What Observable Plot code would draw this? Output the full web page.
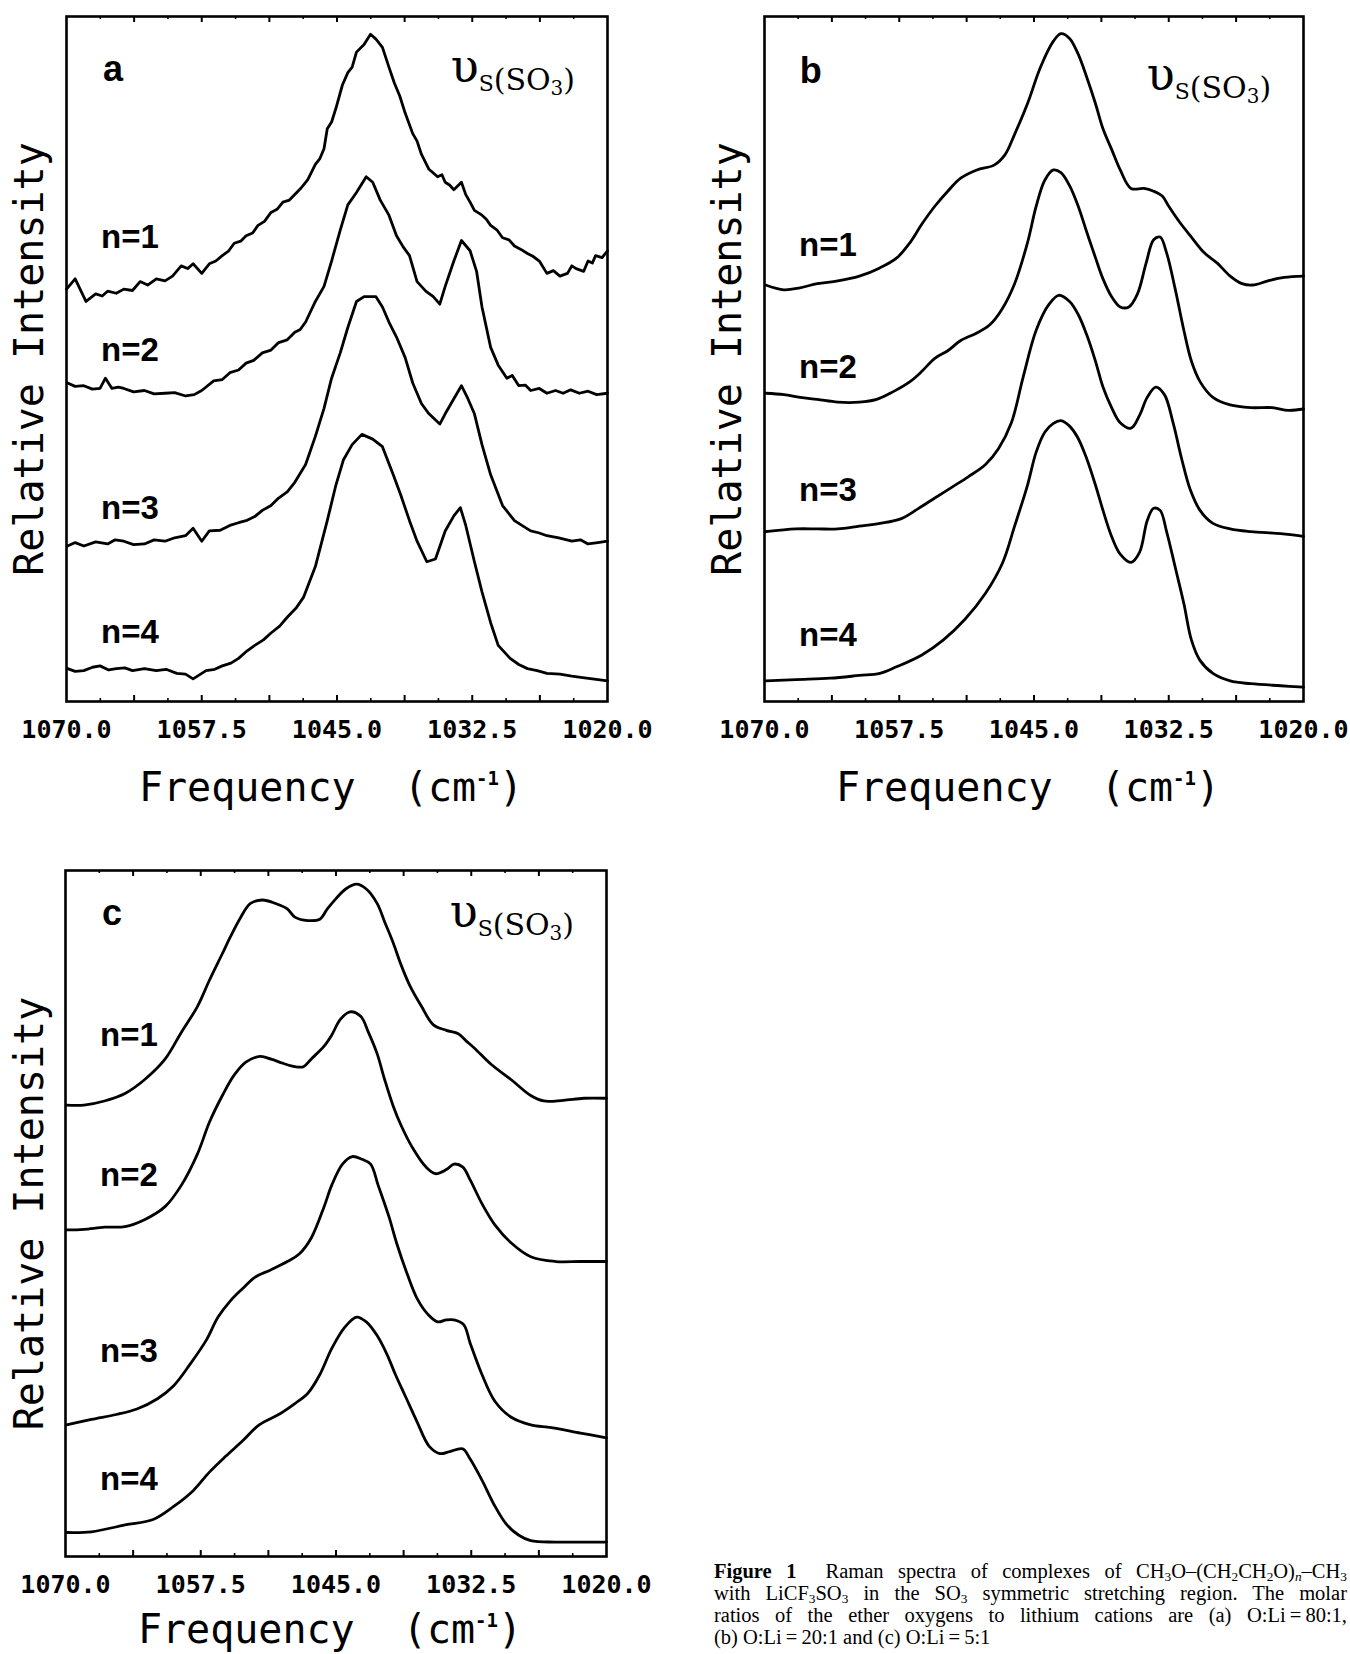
<!DOCTYPE html>
<html><head><meta charset="utf-8">
<script src="https://cdn.jsdelivr.net/npm/d3@7"></script>
<script src="https://cdn.jsdelivr.net/npm/@observablehq/plot@0.6"></script>
<style>
html,body{margin:0;padding:0;background:#fff;}
#page{position:relative;width:1350px;height:1654px;overflow:hidden;background:#fff;}
.panel{position:absolute;}
.panel svg{overflow:visible;}
#caption{position:absolute;left:714px;top:1560px;width:633px;font-family:"Liberation Serif","Times New Roman",serif;font-size:20.5px;line-height:22px;color:#000;}
#caption .ln{text-align:justify;text-align-last:justify;height:22px;overflow:visible;}
#caption .last{text-align:left;text-align-last:left;}
#caption sub{font-size:65%;vertical-align:-0.25em;line-height:0;}
</style>
</head><body>
<div id="page">
  <div class="panel" id="pa" style="left:0;top:0"></div>
  <div class="panel" id="pb" style="left:698px;top:0"></div>
  <div class="panel" id="pc" style="left:0;top:854px"></div>
  <div id="caption">
    <div class="ln"><b>Figure 1</b>&nbsp; Raman spectra of complexes of CH<sub>3</sub>O–(CH<sub>2</sub>CH<sub>2</sub>O)<sub><i>n</i></sub>–CH<sub>3</sub></div>
    <div class="ln">with LiCF<sub>3</sub>SO<sub>3</sub> in the SO<sub>3</sub> symmetric stretching region. The molar</div>
    <div class="ln">ratios of the ether oxygens to lithium cations are (a) O:Li&#8201;=&#8201;80:1,</div>
    <div class="ln last">(b) O:Li&#8201;=&#8201;20:1 and (c) O:Li&#8201;=&#8201;5:1</div>
  </div>
</div>
<script>
// ---------- data (frequency in cm^-1, relative intensity in arbitrary units 0-100) ----------
const freqTicks = [1070, 1057.5, 1045, 1032.5, 1020];
const majorTicks = [1063.75, 1057.5, 1051.25, 1045, 1038.75, 1032.5, 1026.25];
const minorTicks = [1066.875, 1060.625, 1054.375, 1048.125, 1041.875, 1035.625, 1029.375, 1023.125];
const seriesNames = ["n=1", "n=2", "n=3", "n=4"];
const yLabel = "Relative Intensity";
const xLabel = "Frequency";

// panel a : O:Li = 80:1
const a1 = [[1070.0,60.2],[1069.2,61.7],[1068.2,58.4],[1067.3,59.5],[1066.7,59.2],[1066.2,59.9],[1065.4,59.6],[1064.7,60.2],[1063.9,60.0],[1063.2,61.3],[1062.5,60.8],[1061.7,61.7],[1060.9,61.4],[1060.2,62.1],[1059.4,63.6],[1058.8,63.2],[1058.3,63.9],[1057.5,62.5],[1056.8,63.9],[1056.2,64.3],[1055.6,65.1],[1055.0,65.8],[1054.5,66.9],[1053.9,67.2],[1053.4,68.0],[1052.8,68.4],[1052.3,69.5],[1051.7,70.1],[1051.1,71.4],[1050.5,71.9],[1050.0,72.9],[1049.4,73.2],[1048.9,74.0],[1048.3,75.0],[1047.7,76.2],[1047.0,78.4],[1046.6,79.2],[1046.2,80.7],[1045.9,83.6],[1045.5,84.6],[1045.1,86.6],[1044.5,90.0],[1044.0,91.8],[1043.6,92.6],[1043.2,94.8],[1042.5,95.9],[1041.9,97.4],[1041.4,96.7],[1040.8,95.5],[1040.2,92.6],[1039.7,90.3],[1039.2,88.4],[1038.7,85.9],[1038.0,82.9],[1037.6,81.8],[1037.2,79.9],[1036.5,77.7],[1035.7,76.6],[1035.3,76.9],[1035.0,75.8],[1034.6,75.4],[1034.2,74.7],[1033.5,75.8],[1033.1,74.0],[1032.7,72.9],[1032.3,71.7],[1031.6,71.0],[1031.2,70.4],[1030.8,69.5],[1030.2,68.8],[1029.7,67.7],[1029.1,67.4],[1028.6,66.5],[1028.0,66.0],[1027.4,65.4],[1026.9,65.0],[1026.3,64.3],[1025.6,62.5],[1025.0,62.9],[1024.4,62.1],[1023.7,62.5],[1023.3,63.6],[1022.9,63.2],[1022.2,62.8],[1021.8,64.3],[1021.4,64.0],[1021.1,65.1],[1020.5,64.8],[1020.0,65.8]];
const a2 = [[1069.9,46.5],[1069.2,46.0],[1068.4,46.1],[1067.6,45.6],[1066.9,45.7],[1066.4,47.2],[1065.8,45.7],[1065.2,45.9],[1064.7,45.7],[1063.8,45.2],[1062.8,45.4],[1061.9,44.9],[1060.9,45.0],[1060.0,45.1],[1059.0,44.6],[1058.2,44.8],[1057.5,45.4],[1056.4,46.8],[1055.6,47.0],[1054.9,48.0],[1054.1,48.4],[1053.4,49.4],[1052.7,49.8],[1051.9,50.9],[1051.1,51.3],[1050.4,52.4],[1049.6,52.8],[1048.9,53.9],[1048.4,54.3],[1047.9,55.4],[1047.0,58.4],[1046.2,60.6],[1045.5,64.3],[1044.7,68.8],[1044.0,72.5],[1043.2,74.3],[1042.3,76.6],[1041.7,75.8],[1041.0,73.2],[1040.2,71.0],[1039.5,68.0],[1038.9,66.4],[1038.3,65.1],[1037.6,61.3],[1036.8,59.9],[1036.1,59.1],[1035.5,58.0],[1035.0,60.6],[1034.2,64.3],[1033.5,67.3],[1032.7,65.8],[1032.1,62.8],[1031.6,57.6],[1030.8,51.7],[1030.1,49.1],[1029.3,47.2],[1028.8,47.6],[1028.2,46.1],[1027.6,46.2],[1027.1,45.4],[1026.3,45.7],[1025.6,45.0],[1024.8,45.4],[1024.1,45.0],[1023.4,45.5],[1022.6,45.0],[1021.8,45.3],[1021.0,44.8],[1020.0,45.0]];
const a3 = [[1069.9,22.7],[1069.2,23.2],[1068.4,22.7],[1067.3,23.3],[1066.2,23.0],[1065.5,23.6],[1064.7,23.4],[1063.8,22.9],[1062.8,23.0],[1061.9,23.6],[1060.9,23.4],[1060.0,23.9],[1059.0,24.2],[1058.3,25.3],[1057.5,23.4],[1056.8,24.9],[1055.8,25.0],[1054.9,25.7],[1054.1,26.1],[1053.4,26.4],[1052.6,27.0],[1051.9,27.9],[1051.1,28.6],[1050.4,29.7],[1049.6,30.6],[1048.9,32.0],[1047.9,34.6],[1047.0,38.7],[1046.2,42.8],[1045.5,47.2],[1044.7,50.9],[1044.0,54.6],[1043.2,58.4],[1042.5,59.1],[1041.4,59.1],[1040.8,57.6],[1040.2,55.4],[1039.5,53.2],[1038.7,50.2],[1038.0,46.5],[1037.2,43.5],[1036.5,42.0],[1035.5,40.5],[1035.0,42.0],[1034.2,44.2],[1033.5,46.1],[1032.9,44.2],[1032.3,42.0],[1031.6,37.5],[1030.8,33.1],[1029.7,28.6],[1028.6,26.4],[1027.8,25.6],[1027.1,24.9],[1026.3,24.6],[1025.6,24.2],[1024.5,23.9],[1023.3,23.4],[1022.5,23.6],[1021.8,23.0],[1020.9,23.2],[1020.0,23.4]];
const a4 = [[1069.9,4.8],[1069.2,4.4],[1068.4,4.5],[1067.6,5.0],[1066.9,5.2],[1066.1,4.6],[1065.4,4.8],[1064.6,4.9],[1063.9,4.5],[1062.8,4.8],[1061.7,4.5],[1060.8,4.7],[1059.8,4.1],[1059.0,4.0],[1058.3,3.3],[1057.1,4.5],[1056.3,4.7],[1055.6,5.2],[1054.8,5.6],[1054.1,6.3],[1053.3,7.4],[1052.6,8.2],[1051.8,9.0],[1051.1,10.0],[1050.3,11.0],[1049.6,12.3],[1048.8,13.6],[1048.1,15.2],[1047.0,19.7],[1045.9,26.4],[1045.1,31.6],[1044.4,35.3],[1043.6,37.5],[1042.7,39.0],[1041.7,38.3],[1040.8,37.2],[1039.8,33.1],[1039.1,30.1],[1038.3,26.4],[1037.6,23.4],[1036.7,20.4],[1035.9,20.8],[1035.0,24.9],[1034.2,27.1],[1033.6,28.3],[1033.1,25.7],[1032.3,20.4],[1031.6,16.0],[1030.8,11.5],[1030.1,8.2],[1029.0,6.3],[1028.2,5.4],[1027.4,4.8],[1026.5,4.5],[1025.6,4.1],[1024.4,4.0],[1023.3,3.7],[1022.3,3.5],[1021.4,3.3],[1020.0,3.0]];

// panel b : O:Li = 20:1
const b1 = [[1069.9,60.8],[1068.2,60.1],[1066.7,60.4],[1065.1,61.0],[1063.2,61.4],[1061.2,62.1],[1059.3,63.3],[1057.7,64.8],[1056.5,67.0],[1055.4,69.7],[1054.2,72.3],[1053.0,74.5],[1051.8,76.4],[1050.3,77.6],[1048.7,78.3],[1047.7,79.8],[1046.8,82.8],[1045.6,87.3],[1044.4,92.6],[1043.2,96.4],[1042.5,97.5],[1041.7,96.8],[1040.9,94.5],[1040.1,91.1],[1039.3,87.3],[1038.6,83.6],[1037.8,80.6],[1037.0,77.6],[1036.0,74.9],[1034.8,74.9],[1033.9,74.5],[1033.1,73.8],[1032.5,72.3],[1031.5,70.0],[1030.4,67.8],[1029.2,65.5],[1028.0,64.0],[1026.8,62.1],[1025.7,61.0],[1024.7,60.8],[1023.3,61.4],[1021.8,61.9],[1020.0,62.1]];
const b2 = [[1069.9,45.0],[1068.2,44.8],[1066.7,44.4],[1065.1,44.1],[1063.2,43.7],[1061.2,43.7],[1059.6,44.1],[1058.1,45.2],[1056.5,46.7],[1055.4,48.2],[1054.2,50.1],[1053.0,51.2],[1051.8,52.7],[1050.3,53.8],[1049.1,55.0],[1048.0,57.2],[1046.8,61.0],[1045.6,67.0],[1044.8,72.3],[1044.0,76.1],[1043.2,77.6],[1042.5,77.2],[1041.7,75.3],[1040.9,72.3],[1040.1,68.5],[1039.3,64.8],[1038.6,61.7],[1037.8,59.1],[1037.0,57.6],[1036.2,57.6],[1035.4,59.5],[1034.6,64.0],[1033.9,67.4],[1033.3,67.8],[1032.7,65.5],[1031.9,60.2],[1031.1,54.2],[1030.4,49.7],[1029.6,46.7],[1028.4,44.4],[1026.8,43.3],[1024.9,42.9],[1022.9,42.9],[1021.4,42.5],[1020.0,42.7]];
const b3 = [[1069.9,24.8],[1067.1,25.2],[1065.1,25.2],[1063.2,25.2],[1061.2,25.6],[1059.3,26.0],[1057.3,26.7],[1055.7,28.2],[1054.2,29.7],[1052.6,31.3],[1051.1,32.8],[1049.5,34.6],[1048.3,36.9],[1047.1,40.7],[1046.0,47.4],[1044.8,54.2],[1043.6,58.0],[1042.7,59.3],[1041.7,58.4],[1040.9,56.5],[1040.1,53.5],[1039.3,49.7],[1038.6,45.9],[1037.8,42.9],[1037.0,40.7],[1036.0,39.9],[1035.2,41.8],[1034.5,44.4],[1033.7,45.9],[1032.9,44.8],[1032.1,40.7],[1031.3,35.4],[1030.5,30.9],[1029.6,27.9],[1028.4,26.0],[1026.8,25.2],[1024.9,24.8],[1022.1,24.5],[1020.0,24.1]];
const b4 = [[1069.9,3.0],[1067.1,3.2],[1063.9,3.4],[1061.2,3.8],[1059.3,4.1],[1057.7,5.1],[1055.4,6.8],[1053.4,9.0],[1051.4,12.0],[1049.5,15.8],[1047.9,20.3],[1046.8,25.6],[1045.6,31.6],[1044.8,36.4],[1044.0,39.3],[1043.2,40.6],[1042.5,41.0],[1041.7,40.2],[1040.9,38.4],[1040.1,35.4],[1039.3,31.6],[1038.6,27.9],[1037.8,24.1],[1037.0,21.5],[1036.0,20.3],[1035.2,21.8],[1034.5,26.4],[1033.9,28.2],[1033.3,27.9],[1032.7,24.8],[1031.9,19.6],[1031.1,14.3],[1030.4,9.0],[1029.6,6.0],[1028.4,4.1],[1026.8,3.0],[1024.9,2.6],[1022.1,2.3],[1020.0,2.1]];

// panel c : O:Li = 5:1
const c1 = [[1069.9,65.8],[1068.3,65.8],[1066.4,66.4],[1064.5,67.5],[1062.7,69.5],[1060.8,72.5],[1059.3,76.4],[1057.8,80.2],[1056.7,84.0],[1055.5,87.9],[1054.8,90.2],[1053.8,93.2],[1052.9,95.2],[1051.8,95.7],[1050.6,95.2],[1049.5,94.4],[1048.8,93.2],[1047.6,92.7],[1046.5,92.9],[1045.8,94.4],[1045.0,95.9],[1044.1,97.3],[1043.1,98.0],[1042.2,97.3],[1041.2,95.2],[1040.5,92.5],[1039.7,89.4],[1039.0,86.3],[1038.2,83.3],[1037.1,80.2],[1036.0,77.5],[1034.8,76.7],[1033.7,76.2],[1033.0,75.2],[1032.2,74.1],[1030.7,71.8],[1028.8,69.5],[1027.0,67.2],[1025.8,66.4],[1024.0,66.5],[1022.1,66.8],[1020.0,66.8]];
const c2 = [[1069.9,47.6],[1068.3,47.7],[1066.4,48.0],[1064.5,48.1],[1062.7,49.1],[1060.8,51.0],[1059.3,54.1],[1057.8,58.7],[1056.7,63.3],[1055.5,67.2],[1054.4,70.2],[1053.3,72.1],[1052.0,72.9],[1051.0,72.5],[1049.9,71.9],[1048.8,71.4],[1048.0,71.4],[1047.3,72.5],[1046.1,74.4],[1045.4,76.0],[1044.6,78.3],[1043.7,79.4],[1042.7,78.7],[1042.0,76.4],[1041.2,73.3],[1040.5,69.5],[1039.7,65.6],[1039.0,62.9],[1037.9,59.5],[1036.7,56.8],[1035.8,55.8],[1034.8,56.4],[1034.1,57.2],[1033.3,56.8],[1032.6,54.9],[1031.5,51.4],[1030.3,48.3],[1028.8,45.7],[1027.0,43.7],[1024.7,43.0],[1022.4,43.0],[1020.0,43.0]];
const c3 = [[1069.9,19.2],[1067.6,20.0],[1065.3,20.7],[1063.4,21.5],[1061.5,23.0],[1060.0,24.9],[1058.5,28.0],[1057.0,31.5],[1055.9,34.9],[1054.8,37.2],[1053.6,39.1],[1052.5,40.7],[1051.0,41.8],[1049.5,43.0],[1048.4,44.1],[1047.3,46.4],[1046.1,51.0],[1045.4,54.1],[1044.4,57.2],[1043.5,58.3],[1042.6,57.9],[1041.8,57.2],[1041.1,54.1],[1040.1,49.5],[1039.4,45.7],[1038.4,41.1],[1037.5,37.6],[1036.5,35.3],[1035.6,34.2],[1034.8,34.5],[1034.1,34.5],[1033.2,33.8],[1032.6,31.1],[1031.5,26.5],[1030.3,22.6],[1028.8,20.3],[1027.0,19.2],[1025.1,18.8],[1022.4,18.0],[1020.0,17.3]];
const c4 = [[1069.9,3.5],[1067.6,3.6],[1064.5,4.6],[1061.9,5.4],[1060.0,7.3],[1058.2,9.6],[1056.7,12.3],[1055.2,14.6],[1053.6,16.9],[1052.1,19.2],[1050.3,20.7],[1048.8,22.3],[1047.6,23.8],[1046.5,26.5],[1045.4,30.3],[1044.2,33.4],[1043.1,34.9],[1042.2,34.2],[1041.2,32.2],[1040.3,29.5],[1039.5,26.5],[1038.6,23.4],[1037.5,19.6],[1036.4,16.1],[1035.4,15.0],[1034.5,15.3],[1033.3,15.7],[1032.6,14.2],[1031.5,11.1],[1030.3,7.3],[1029.2,4.6],[1028.1,3.1],[1027.0,2.3],[1024.7,2.1],[1022.4,2.1],[1020.0,2.1]];

// annotation anchors (data space)
const labelLevelsA = [67.8, 51.3, 28.2, 10.1];
const labelLevelsB = [66.6, 48.8, 30.8, 9.6];
const labelLevelsC = [75.9, 55.5, 29.9, 11.2];

// ---------- drawing ----------
const MONO = "DejaVu Sans Mono, monospace";
const SANS = "Liberation Sans, Arial, sans-serif";
const SERIF = "DejaVu Serif, Liberation Serif, serif";

function rich(svg, cls, parts) {
  d3.select(svg).selectAll(`g.${cls} text`).each(function () {
    const t = d3.select(this);
    t.text(null);
    for (const p of parts) {
      const s = t.append("tspan").text(p.t);
      if (p.size) s.attr("font-size", p.size);
      if (p.dy) s.attr("dy", p.dy);
      if (p.weight) s.attr("font-weight", p.weight);
    }
  });
}

function panel({el, letter, curves, levels, smooth, ml, mr, mt, mb, frameW, frameH, xlabDy, letterLevel, nuLevel}) {
  const labels = seriesNames.map((n, i) => ({n, level: levels[i]}));
  const svg = Plot.plot({
    width: ml + frameW + mr,
    height: mt + frameH + mb,
    marginLeft: ml, marginRight: mr, marginTop: mt, marginBottom: mb,
    style: {fontFamily: MONO, background: "white", overflow: "visible", color: "black"},
    x: {domain: [1070, 1020]},
    y: {domain: [0, 100], axis: null},
    marks: [
      Plot.frame({stroke: "black", strokeWidth: 2.6}),
      Plot.tickX(majorTicks, {x: d => d, insetTop: frameH - 6, stroke: "black", strokeWidth: 2}),
      Plot.tickX(majorTicks, {x: d => d, insetBottom: frameH - 6, stroke: "black", strokeWidth: 2}),
      Plot.tickX(minorTicks, {x: d => d, insetTop: frameH - 3, stroke: "black", strokeWidth: 1.6}),
      Plot.tickX(minorTicks, {x: d => d, insetBottom: frameH - 3, stroke: "black", strokeWidth: 1.6}),
      Plot.axisX(freqTicks, {tickSize: 0, tickPadding: 19, tickFormat: d3.format(".1f"), fontSize: 25, fontWeight: "bold", fontFamily: MONO, fill: "black", label: null}),
      ...curves.map(c => Plot.line(c, {x: d => d[0], y: d => d[1], stroke: "black", strokeWidth: 2.8, strokeLinejoin: "round", curve: smooth ? "catmull-rom" : "linear"})),
      Plot.text(labels, {x: () => 1066.8, y: d => d.level, text: d => d.n, textAnchor: "start", fontSize: 33, fontWeight: "bold", fontFamily: SANS, fill: "black", letterSpacing: "6px"}),
      Plot.text([letter], {x: () => 1065.7, y: () => letterLevel, text: d => d, fontSize: 36, fontWeight: "bold", fontFamily: SANS, fill: "black"}),
      Plot.text(["nu"], {x: () => 1023.0, y: () => nuLevel, text: () => "υ", textAnchor: "end", fontSize: 30, fontFamily: SERIF, fill: "black", className: "nu"}),
      Plot.text([yLabel], {frameAnchor: "left", rotate: -90, dx: -(ml - 30), textAnchor: "middle", lineAnchor: "middle", fontSize: 40, fontFamily: MONO, fill: "black"}),
      Plot.text([xLabel], {frameAnchor: "bottom", textAnchor: "middle", lineAnchor: "middle", dy: xlabDy, dx: -6, fontSize: 40, fontFamily: MONO, fill: "black", className: "xlab"})
    ]
  });
  rich(svg, "nu", [{t: "υ", size: 46}, {t: "S", size: 22, dy: 9}, {t: "(SO", size: 30, dy: -1}, {t: "3", size: 20, dy: 5}, {t: ")", size: 30, dy: -5}]);
  rich(svg, "xlab", [{t: "Frequency\u00a0\u00a0(cm"}, {t: "-1", size: 19, dy: -16, weight: "bold"}, {t: ")", dy: 16}]);
  document.getElementById(el).appendChild(svg);
}

panel({el: "pa", letter: "a", curves: [a1, a2, a3, a4], levels: labelLevelsA, smooth: false,
  ml: 66, mr: 44, mt: 16, mb: 110, frameW: 541, frameH: 685, xlabDy: 87, letterLevel: 92.3, nuLevel: 91.8});
panel({el: "pb", letter: "b", curves: [b1, b2, b3, b4], levels: labelLevelsB, smooth: true,
  ml: 66, mr: 47, mt: 16, mb: 110, frameW: 539, frameH: 685, xlabDy: 87, letterLevel: 92.0, nuLevel: 90.6});
panel({el: "pc", letter: "c", curves: [c1, c2, c3, c4], levels: labelLevelsC, smooth: true,
  ml: 65, mr: 44, mt: 16, mb: 98, frameW: 541, frameH: 686, xlabDy: 74, letterLevel: 93.7, nuLevel: 93.2});
</script>
</body></html>
